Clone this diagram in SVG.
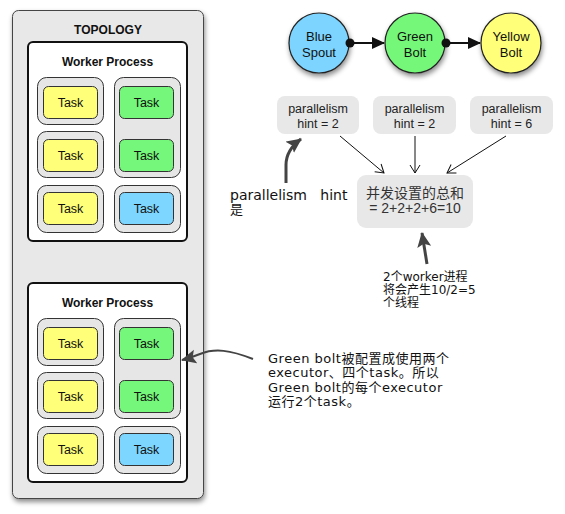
<svg xmlns="http://www.w3.org/2000/svg" width="565" height="514" viewBox="0 0 565 514">
<defs>
<style>
.topo{fill:#e8e8e8;stroke:#444;stroke-width:1}
.wp{fill:#fff;stroke:#111;stroke-width:2}
.grp{fill:#e6e6e6;stroke:#333;stroke-width:1}
.task{stroke:#333;stroke-width:1}
.y{fill:#ffff7a}.g{fill:#74f77a}.b{fill:#7dd6ff}
.t{font-family:"Liberation Sans",Arial,sans-serif;font-size:12.5px;fill:#111;text-anchor:middle}
.tb{font-family:"Liberation Sans",Arial,sans-serif;font-size:12px;font-weight:bold;fill:#111;text-anchor:middle}
.ct{font-family:"Liberation Sans",Arial,sans-serif;font-size:13px;fill:#111;text-anchor:middle}
.hint{fill:#e8e8e8}
.ht{font-family:"Liberation Sans",Arial,sans-serif;font-size:12.5px;fill:#222;text-anchor:middle}
.st{font-family:"Liberation Sans","Noto Sans CJK SC",sans-serif;font-size:14px;fill:#333;text-anchor:middle}
.note{font-family:"DejaVu Sans","Noto Sans CJK SC",sans-serif;fill:#111}
.thin{fill:none;stroke:#111;stroke-width:1}
.thick{fill:none;stroke:#444;stroke-width:3}
</style>
<filter id="sh" x="-20%" y="-20%" width="150%" height="150%">
<feDropShadow dx="1" dy="3" stdDeviation="2.5" flood-color="#000" flood-opacity="0.45"/>
</filter>
<marker id="open" markerWidth="12" markerHeight="12" refX="10" refY="6" orient="auto" markerUnits="userSpaceOnUse">
<path d="M2,1 L10,6 L2,11" fill="none" stroke="#111" stroke-width="1"/>
</marker>
<marker id="solid" markerWidth="14" markerHeight="14" refX="12" refY="6" orient="auto" markerUnits="userSpaceOnUse">
<path d="M0,0 L13,6 L0,12 Z" fill="#111"/>
</marker>
<marker id="dot" markerWidth="10" markerHeight="10" refX="5" refY="5" orient="auto" markerUnits="userSpaceOnUse">
<circle cx="5" cy="5" r="4.5" fill="#111"/>
</marker>
<marker id="fat" markerWidth="20" markerHeight="20" refX="14" refY="7" orient="auto" markerUnits="userSpaceOnUse">
<path d="M0,0 L15,7 L0,14 L3,7 Z" fill="#444"/>
</marker>
</defs>

<g id="topology">
<rect class="topo" x="12.5" y="10.5" width="191" height="488" rx="6" filter="url(#sh)"/>
<text class="tb" x="108" y="34">TOPOLOGY</text>
</g>

<g id="worker1">
<rect class="wp" x="28" y="42" width="159" height="199" rx="5"/>
<text class="tb" x="107.5" y="66">Worker Process</text>
<rect class="grp" x="37.5" y="77.5" width="66" height="47" rx="9"/>
<rect class="grp" x="37.5" y="131.5" width="66" height="46" rx="9"/>
<rect class="grp" x="37.5" y="185.5" width="66" height="47" rx="9"/>
<rect class="grp" x="114.5" y="77.5" width="66" height="100" rx="9"/>
<rect class="grp" x="114.5" y="185.5" width="66" height="47" rx="9"/>
<g id="w1t1"><rect class="task y" x="43.5" y="86.5" width="54" height="32" rx="5"/><text class="t" x="70.5" y="107">Task</text></g>
<g id="w1t2"><rect class="task y" x="43.5" y="139.5" width="54" height="32" rx="5"/><text class="t" x="70.5" y="160">Task</text></g>
<g id="w1t3"><rect class="task y" x="43.5" y="192.5" width="54" height="32" rx="5"/><text class="t" x="70.5" y="213">Task</text></g>
<g id="w1t4"><rect class="task g" x="119.5" y="86.5" width="54" height="32" rx="5"/><text class="t" x="146.5" y="107">Task</text></g>
<g id="w1t5"><rect class="task g" x="119.5" y="139.5" width="54" height="32" rx="5"/><text class="t" x="146.5" y="160">Task</text></g>
<g id="w1t6"><rect class="task b" x="119.5" y="192.5" width="54" height="32" rx="5"/><text class="t" x="146.5" y="213">Task</text></g>
</g>

<g id="worker2">
<rect class="wp" x="28" y="283" width="159" height="199" rx="5"/>
<text class="tb" x="107.5" y="307">Worker Process</text>
<rect class="grp" x="37.5" y="318.5" width="66" height="47" rx="9"/>
<rect class="grp" x="37.5" y="372.5" width="66" height="46" rx="9"/>
<rect class="grp" x="37.5" y="426.5" width="66" height="47" rx="9"/>
<rect class="grp" x="114.5" y="318.5" width="66" height="100" rx="9"/>
<rect class="grp" x="114.5" y="426.5" width="66" height="47" rx="9"/>
<g id="w2t1"><rect class="task y" x="43.5" y="327.5" width="54" height="32" rx="5"/><text class="t" x="70.5" y="348">Task</text></g>
<g id="w2t2"><rect class="task y" x="43.5" y="380.5" width="54" height="32" rx="5"/><text class="t" x="70.5" y="401">Task</text></g>
<g id="w2t3"><rect class="task y" x="43.5" y="433.5" width="54" height="32" rx="5"/><text class="t" x="70.5" y="454">Task</text></g>
<g id="w2t4"><rect class="task g" x="119.5" y="327.5" width="54" height="32" rx="5"/><text class="t" x="146.5" y="348">Task</text></g>
<g id="w2t5"><rect class="task g" x="119.5" y="380.5" width="54" height="32" rx="5"/><text class="t" x="146.5" y="401">Task</text></g>
<g id="w2t6"><rect class="task b" x="119.5" y="433.5" width="54" height="32" rx="5"/><text class="t" x="146.5" y="454">Task</text></g>
</g>

<g id="blueSpout">
<circle cx="319" cy="43" r="30" fill="#7dd4ff" stroke="#222" stroke-width="1.2" filter="url(#sh)"/>
<text class="ct" x="319" y="41">Blue</text><text class="ct" x="319" y="57">Spout</text>
</g>
<g id="greenBolt">
<circle cx="415" cy="43" r="30" fill="#74f77a" stroke="#222" stroke-width="1.2" filter="url(#sh)"/>
<text class="ct" x="415" y="41">Green</text><text class="ct" x="415" y="57">Bolt</text>
</g>
<g id="yellowBolt">
<circle cx="511" cy="43" r="30" fill="#ffff7a" stroke="#222" stroke-width="1.2" filter="url(#sh)"/>
<text class="ct" x="511" y="41">Yellow</text><text class="ct" x="511" y="57">Bolt</text>
</g>

<g id="hint1"><rect class="hint" x="277" y="96" width="82" height="38" rx="8"/><text class="ht" x="318" y="113">parallelism</text><text class="ht" x="318" y="128">hint = 2</text></g>
<g id="hint2"><rect class="hint" x="373" y="96" width="83" height="38" rx="8"/><text class="ht" x="414.5" y="113">parallelism</text><text class="ht" x="414.5" y="128">hint = 2</text></g>
<g id="hint3"><rect class="hint" x="470" y="96" width="83" height="38" rx="8"/><text class="ht" x="511.5" y="113">parallelism</text><text class="ht" x="511.5" y="128">hint = 6</text></g>

<g id="sum"><rect class="hint" x="357" y="175" width="116" height="53" rx="9"/>
<text class="st" x="415" y="198">并发设置的总和</text><text class="st" x="415" y="213">= 2+2+2+6=10</text></g>

<g id="noteHint"><text class="note" x="230" y="200" font-size="14" xml:space="preserve">parallelism   hint</text><text class="note" x="230" y="214" font-size="13">是</text></g>

<g id="noteWorker"><text class="note" x="383" y="281" font-size="12">2个worker进程</text><text class="note" x="383" y="294" font-size="12">将会产生10/2=5</text><text class="note" x="383" y="307" font-size="12">个线程</text></g>

<g id="noteGreen" letter-spacing="0.5"><text class="note" x="268" y="363" font-size="13">Green bolt被配置成使用两个</text><text class="note" x="268" y="377.3" font-size="13">executor、四个task。所以</text><text class="note" x="268" y="391.6" font-size="13">Green bolt的每个executor</text><text class="note" x="268" y="406" font-size="13">运行2个task。</text></g>

<g id="connectors">
<line x1="350" y1="43" x2="384" y2="43" stroke="#111" stroke-width="2" marker-start="url(#dot)" marker-end="url(#solid)"/>
<line x1="446" y1="43" x2="480" y2="43" stroke="#111" stroke-width="2" marker-start="url(#dot)" marker-end="url(#solid)"/>
<line class="thin" x1="340" y1="136" x2="384" y2="173" marker-end="url(#open)"/>
<line class="thin" x1="415" y1="136" x2="415" y2="173" marker-end="url(#open)"/>
<line class="thin" x1="506" y1="136" x2="447" y2="173" marker-end="url(#open)"/>
<path class="thick" d="M286,183 L286,165 Q286,150 301,139" marker-end="url(#fat)"/>
<path class="thick" d="M427,264 L422,233" marker-end="url(#fat)"/>
<path fill="none" stroke="#444" stroke-width="2" d="M253,359 C230,350 215,348 200,354 Q190,358 182,360" marker-end="url(#fat)"/>
</g>
</svg>
